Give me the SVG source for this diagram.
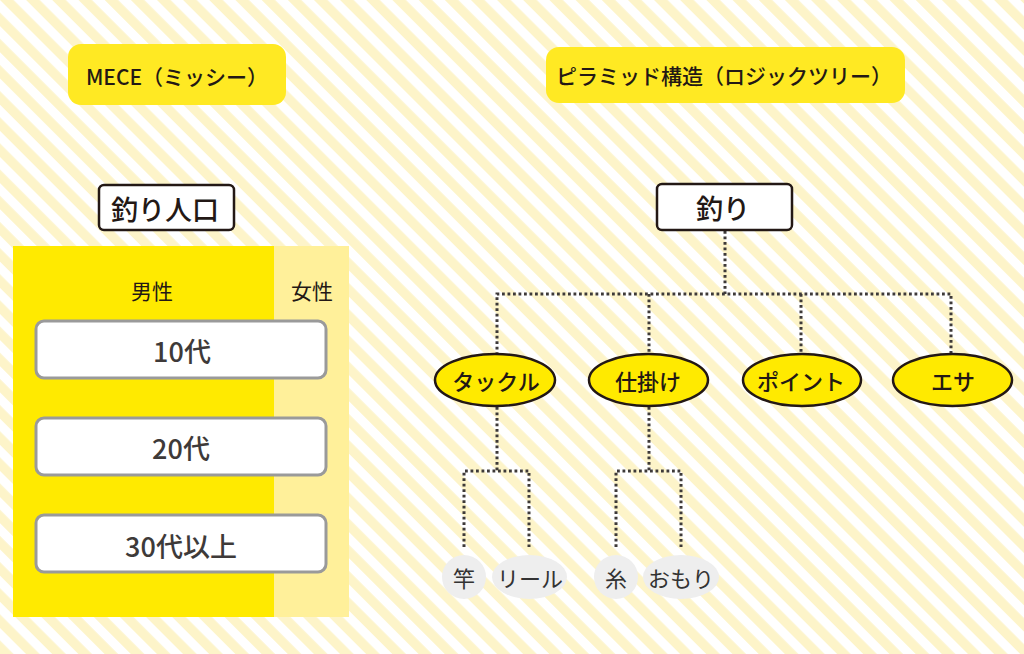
<svg xmlns="http://www.w3.org/2000/svg" width="1024" height="654" viewBox="0 0 1024 654">
  <defs>
    <pattern id="stripes" patternUnits="userSpaceOnUse" width="18.5" height="18.5" patternTransform="rotate(-45)">
      <rect x="0" y="0" width="18.5" height="18.5" fill="#ffffff"/>
      <rect x="0" y="0" width="9.5" height="18.5" fill="#fdf4c9"/>
    </pattern>
    <style>
      text { font-family: "Noto Sans CJK JP", "Noto Sans", sans-serif; text-anchor: middle; dominant-baseline: central; }
      .title-box { fill: #ffe923; }
      .title { font-size: 21px; font-weight: 500; fill: #231815; }
      .label-box { fill: #ffffff; stroke: #231815; stroke-width: 2.5; }
      .label { font-size: 27px; font-weight: 500; fill: #231815; }
      .head { font-size: 21px; fill: #231815; }
      .age-box { fill: #ffffff; stroke: #9a9a9a; stroke-width: 3; }
      .age { font-size: 27px; font-weight: 500; fill: #3e3a39; }
      .oval { fill: #ffea00; stroke: #231815; stroke-width: 2.5; }
      .oval-text { font-size: 22px; font-weight: 500; fill: #231815; }
      .leaf { fill: #eeeeee; }
      .leaf-text { font-size: 22px; font-weight: 400; fill: #333333; }
      .dot { fill: none; stroke: #3e3a39; stroke-width: 3; stroke-dasharray: 2.8 2.7; }
    </style>
  </defs>

  <rect x="0" y="0" width="1024" height="654" fill="url(#stripes)"/>

  <!-- Titles -->
  <g id="title-mece">
    <rect class="title-box" x="68" y="44" width="218" height="61" rx="13"/>
    <text class="title" x="177" y="76">MECE（ミッシー）</text>
  </g>
  <g id="title-pyramid">
    <rect class="title-box" x="546" y="47" width="359" height="56" rx="13"/>
    <text class="title" x="724" y="75">ピラミッド構造（ロジックツリー）</text>
  </g>

  <!-- MECE panel -->
  <g id="mece-label">
    <rect class="label-box" x="99" y="185" width="135" height="45" rx="5"/>
    <text class="label" x="165" y="208">釣り人口</text>
  </g>
  <g id="mece-panel">
    <rect x="13" y="246" width="261" height="371" fill="#ffea00"/>
    <rect x="274" y="246" width="75" height="371" fill="#fff09a"/>
    <text class="head" x="152" y="290">男性</text>
    <text class="head" x="312" y="290">女性</text>
  </g>
  <g id="age-10">
    <rect class="age-box" x="36" y="321" width="290" height="57" rx="8"/>
    <text class="age" x="182" y="350">10代</text>
  </g>
  <g id="age-20">
    <rect class="age-box" x="36" y="418" width="290" height="57" rx="8"/>
    <text class="age" x="181" y="447">20代</text>
  </g>
  <g id="age-30">
    <rect class="age-box" x="36" y="515" width="290" height="57" rx="8"/>
    <text class="age" x="181" y="545">30代以上</text>
  </g>

  <!-- Connectors -->
  <g id="connectors">
    <path class="dot" d="M725 231 V294"/>
    <path class="dot" d="M497 355 V294 H951 V355"/>
    <path class="dot" d="M649 294 V355"/>
    <path class="dot" d="M801 294 V355"/>
    <path class="dot" d="M497 407 V471"/>
    <path class="dot" d="M464 547 V471 H529 V547"/>
    <path class="dot" d="M649 407 V471"/>
    <path class="dot" d="M616 547 V471 H681 V547"/>
  </g>

  <!-- Tree -->
  <g id="root">
    <rect class="label-box" x="657" y="184" width="135" height="46" rx="5"/>
    <text class="label" x="723" y="207">釣り</text>
  </g>
  <g id="tackle">
    <ellipse class="oval" cx="495" cy="380" rx="60" ry="26"/>
    <text class="oval-text" x="496" y="380">タックル</text>
  </g>
  <g id="shikake">
    <ellipse class="oval" cx="648.5" cy="380" rx="59.5" ry="26"/>
    <text class="oval-text" x="648" y="380">仕掛け</text>
  </g>
  <g id="point">
    <ellipse class="oval" cx="802" cy="380" rx="59" ry="26"/>
    <text class="oval-text" x="801" y="380">ポイント</text>
  </g>
  <g id="esa">
    <ellipse class="oval" cx="952.5" cy="380" rx="59.5" ry="26"/>
    <text class="oval-text" x="953" y="380">エサ</text>
  </g>

  <g id="sao">
    <circle class="leaf" cx="464" cy="577" r="22"/>
    <text class="leaf-text" x="464" y="577">竿</text>
  </g>
  <g id="reel">
    <ellipse class="leaf" cx="529.5" cy="577" rx="37.5" ry="22"/>
    <text class="leaf-text" x="530" y="577">リール</text>
  </g>
  <g id="ito">
    <circle class="leaf" cx="616" cy="577" r="22"/>
    <text class="leaf-text" x="616" y="577">糸</text>
  </g>
  <g id="omori">
    <ellipse class="leaf" cx="681" cy="577" rx="38" ry="22"/>
    <text class="leaf-text" x="681" y="577">おもり</text>
  </g>
</svg>
